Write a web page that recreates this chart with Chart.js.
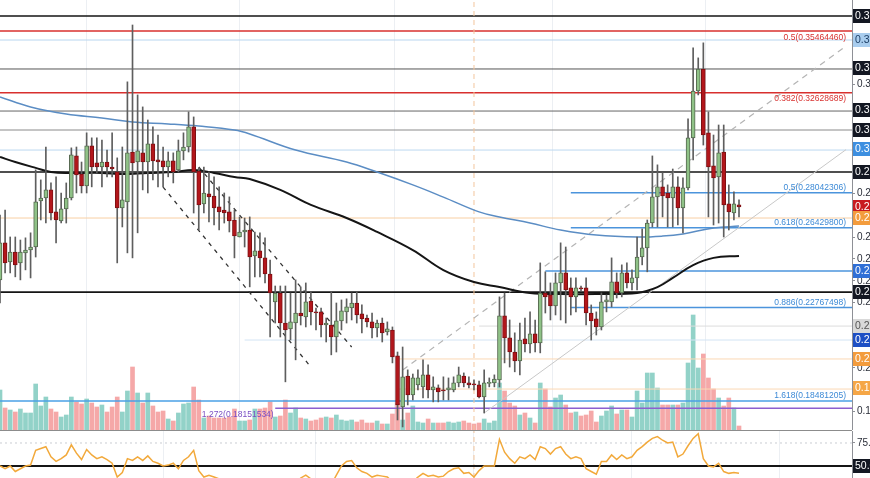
<!DOCTYPE html>
<html>
<head>
<meta charset="utf-8">
<script src="https://cdn.jsdelivr.net/npm/chart.js@4.4.1/dist/chart.umd.min.js"></script>
<style>
  html, body { margin: 0; padding: 0; background: #fff; overflow: hidden; }
  #wrap { width: 870px; height: 478px; position: relative; }
  #priceChart { position: absolute; left: 0; top: 0; }
  #sep { position: absolute; left: 0; top: 430px; width: 852px; height: 1px; background: #8c8c8c; }
  #rsiChart { position: absolute; left: 0; top: 431px; }
</style>
</head>
<body>
<div id="wrap">
  <canvas id="priceChart" width="870" height="430"></canvas>
  <div id="sep"></div>
  <canvas id="rsiChart" width="870" height="47"></canvas>
</div>
<script>
// daily candles
const opens = [0.2404,0.2574,0.2486,0.2532,0.2482,0.2528,0.2541,0.2555,0.2766,0.2780,
  0.2817,0.2716,0.2675,0.2730,0.2780,0.2973,0.2890,0.2835,0.3019,0.2941,
  0.2922,0.2945,0.2922,0.2900,0.2734,0.2762,0.2991,0.2945,0.2987,0.2945,
  0.3028,0.2955,0.2950,0.2922,0.2950,0.2909,0.2996,0.3014,0.3106,0.2904,
  0.2753,0.2799,0.2789,0.2739,0.2725,0.2716,0.2679,0.2601,0.2624,0.2633,
  0.2514,0.2537,0.2505,0.2431,0.2303,0.2344,0.2206,0.2179,0.2206,0.2252,
  0.2234,0.2307,0.2257,0.2257,0.2197,0.2197,0.2142,0.2216,0.2257,0.2275,
  0.2298,0.2248,0.2229,0.2211,0.2183,0.2206,0.2165,0.2174,0.2055,0.1821,
  0.1963,0.1876,0.1922,0.1913,0.1968,0.1899,0.1908,0.1899,0.1899,0.1899,
  0.1931,0.1963,0.1931,0.1926,0.1922,0.1867,0.1929,0.1931,0.1945,0.2239,
  0.2138,0.2073,0.2032,0.2133,0.2110,0.2156,0.2115,0.2344,0.2335,0.2285,
  0.2390,0.2436,0.2367,0.2326,0.2367,0.2367,0.2252,0.2225,0.2188,0.2303,
  0.2303,0.2395,0.2344,0.2436,0.2390,0.2413,0.2509,0.2551,0.2665,0.2785,
  0.2831,0.2803,0.2780,0.2831,0.2734,0.2826,0.3056,0.3271,0.3372,0.3079,
  0.2927,0.2877,0.2991,0.2753,0.2711,0.2748];
const highs = [0.2702,0.2725,0.2601,0.2601,0.2587,0.2597,0.2620,0.2909,0.2863,0.3014,
  0.2849,0.2877,0.2803,0.2849,0.3010,0.3014,0.2945,0.3079,0.3056,0.3056,
  0.3046,0.3000,0.3079,0.2964,0.3014,0.3313,0.3574,0.3253,0.3198,0.3138,
  0.3106,0.3069,0.3014,0.2991,0.2987,0.3046,0.3079,0.3175,0.3152,0.2918,
  0.2922,0.2900,0.2877,0.2831,0.2803,0.2785,0.2725,0.2693,0.2688,0.2693,
  0.2624,0.2620,0.2597,0.2495,0.2376,0.2376,0.2376,0.2344,0.2404,0.2372,
  0.2390,0.2349,0.2275,0.2275,0.2229,0.2349,0.2298,0.2312,0.2317,0.2344,
  0.2349,0.2289,0.2243,0.2252,0.2220,0.2229,0.2211,0.2188,0.2073,0.2096,
  0.1991,0.1972,0.1991,0.2037,0.2014,0.1959,0.1922,0.1959,0.1954,0.1959,
  0.2004,0.1977,0.1959,0.1945,0.1940,0.1991,0.1954,0.1968,0.2326,0.2344,
  0.2220,0.2161,0.2206,0.2229,0.2257,0.2220,0.2482,0.2441,0.2390,0.2436,
  0.2574,0.2555,0.2413,0.2413,0.2376,0.2413,0.2289,0.2257,0.2344,0.2335,
  0.2505,0.2436,0.2473,0.2482,0.2450,0.2601,0.2638,0.2679,0.2973,0.2932,
  0.2895,0.2840,0.2913,0.2877,0.2872,0.3143,0.3469,0.3423,0.3492,0.3175,
  0.3069,0.3115,0.3115,0.2840,0.2808,0.2771];
const lows = [0.2298,0.2436,0.2436,0.2418,0.2404,0.2450,0.2413,0.2509,0.2679,0.2665,
  0.2679,0.2574,0.2665,0.2665,0.2771,0.2803,0.2803,0.2803,0.2831,0.2895,
  0.2831,0.2877,0.2877,0.2482,0.2647,0.2528,0.2505,0.2620,0.2817,0.2803,
  0.2863,0.2831,0.2831,0.2877,0.2849,0.2900,0.2955,0.2991,0.2711,0.2633,
  0.2711,0.2670,0.2656,0.2633,0.2665,0.2624,0.2505,0.2601,0.2555,0.2372,
  0.2418,0.2418,0.2390,0.2142,0.2206,0.2142,0.1936,0.2128,0.2037,0.2197,
  0.2188,0.2197,0.2174,0.2142,0.2119,0.2060,0.2073,0.2174,0.2206,0.2220,
  0.2206,0.2161,0.2188,0.2138,0.2142,0.2119,0.2151,0.2023,0.1761,0.1729,
  0.1830,0.1853,0.1899,0.1862,0.1862,0.1844,0.1844,0.1853,0.1853,0.1890,
  0.1913,0.1913,0.1908,0.1899,0.1862,0.1793,0.1913,0.1913,0.1913,0.2023,
  0.2004,0.1982,0.1968,0.2073,0.2069,0.2073,0.2069,0.2252,0.2220,0.2243,
  0.2220,0.2206,0.2243,0.2257,0.2353,0.2197,0.2128,0.2151,0.2174,0.2257,
  0.2280,0.2321,0.2326,0.2367,0.2358,0.2358,0.2473,0.2441,0.2647,0.2647,
  0.2693,0.2647,0.2647,0.2656,0.2620,0.2817,0.2955,0.3253,0.3023,0.2693,
  0.2656,0.2665,0.2601,0.2633,0.2679,0.2693];
const closes = [0.2574,0.2482,0.2532,0.2473,0.2532,0.2541,0.2555,0.2762,0.2780,0.2817,
  0.2711,0.2679,0.2730,0.2780,0.2978,0.2886,0.2835,0.3019,0.2922,0.2922,
  0.2945,0.2922,0.2913,0.2734,0.2771,0.2987,0.2941,0.2996,0.2945,0.3028,
  0.2950,0.2945,0.2922,0.2950,0.2900,0.2996,0.3014,0.3106,0.2900,0.2748,
  0.2803,0.2785,0.2734,0.2716,0.2711,0.2675,0.2606,0.2624,0.2633,0.2509,
  0.2537,0.2505,0.2431,0.2344,0.2344,0.2206,0.2174,0.2211,0.2252,0.2239,
  0.2303,0.2257,0.2252,0.2197,0.2206,0.2142,0.2216,0.2262,0.2280,0.2298,
  0.2243,0.2225,0.2211,0.2183,0.2206,0.2161,0.2179,0.2050,0.1830,0.1959,
  0.1876,0.1954,0.1954,0.1968,0.1899,0.1913,0.1890,0.1894,0.1908,0.1931,
  0.1968,0.1931,0.1922,0.1922,0.1867,0.1931,0.1931,0.1949,0.2239,0.2138,
  0.2073,0.2032,0.2128,0.2110,0.2156,0.2115,0.2344,0.2326,0.2285,0.2390,
  0.2436,0.2358,0.2326,0.2367,0.2362,0.2252,0.2216,0.2188,0.2303,0.2312,
  0.2395,0.2344,0.2436,0.2390,0.2413,0.2509,0.2551,0.2665,0.2785,0.2831,
  0.2789,0.2780,0.2831,0.2734,0.2826,0.3056,0.3271,0.3372,0.3069,0.2922,
  0.2872,0.2987,0.2748,0.2716,0.2753,0.2739];
// volume, millions
const volumes = [4.0,2.2,2.0,1.8,2.1,1.7,1.7,4.6,2.4,3.3,
  2.1,1.8,1.3,1.5,3.3,2.8,2.6,3.1,2.7,2.3,
  2.5,1.8,2.3,3.3,1.8,3.9,6.3,3.7,2.7,3.7,
  2.4,1.8,1.9,1.1,0.9,1.7,2.6,2.7,4.3,3.0,
  1.2,1.4,1.2,1.2,1.2,1.3,2.1,0.9,0.9,1.0,
  2.1,2.1,2.2,2.8,1.3,1.4,3.0,1.7,2.2,1.2,
  1.1,0.9,1.0,1.2,1.3,1.2,1.5,1.0,0.9,1.0,
  0.8,1.0,0.7,0.7,0.9,0.6,0.6,1.6,2.7,1.0,
  1.7,2.4,0.8,0.7,1.1,0.7,0.7,0.7,0.8,0.7,
  0.8,0.9,0.7,0.6,0.7,1.1,0.7,0.9,4.7,3.9,
  2.7,2.4,1.5,1.7,1.2,0.7,4.7,4.1,2.3,3.2,
  3.5,2.5,1.7,1.8,1.4,1.5,1.9,0.8,1.4,1.9,
  2.4,1.6,2.0,2.0,1.3,3.9,2.7,5.7,5.7,4.2,
  2.5,2.5,2.5,2.5,2.7,6.7,11.5,6.2,7.6,5.2,
  4.1,3.2,2.4,3.2,2.2,0.4];
const rsi = [50,47,50,44,47,50,51,67,69,71,
  60,55,58,62,73,64,57,68,62,58,
  60,57,53,38,43,58,56,60,56,61,
  55,53,50,51,53,47,56,60,67,45,
  38,40,38,36,35,33,30,32,31,28,
  30,29,26,22,26,22,20,25,30,37,
  40,36,34,31,33,30,40,50,55,56,
  48,44,42,38,40,39,38,33,22,30,
  28,33,38,42,39,40,38,39,44,47,
  48,42,43,38,45,50,50,50,79,65,
  58,53,60,58,62,57,71,69,63,69,
  71,63,58,60,58,47,44,41,55,55,
  62,57,62,58,60,67,71,76,80,82,
  78,75,76,60,63,72,80,85,58,50,
  49,53,44,42,43,42];

// moving averages, sampled at bar index
const slowMaIdx = [0,6,13,20,26,33,39,46,49,58,68,74,81,87,94,98,104,110,117,125,130,134,140,145];
const slowMaVal = [0.3244,0.3198,0.3165,0.3147,0.3129,0.3120,0.3110,0.3092,0.3074,0.3000,0.2945,0.2899,
  0.2840,0.2784,0.2716,0.2693,0.2665,0.2633,0.2610,0.2601,0.2605,0.2615,0.2642,0.2651];
const fastMaIdx = [0,3,7,10,14,20,24,29,34,38,42,46,49,55,61,68,74,81,87,93,98,104,110,117,125,129,132,136,140,145];
const fastMaVal = [0.2968,0.2945,0.2918,0.2899,0.2895,0.2895,0.2890,0.2895,0.2899,0.2908,0.2895,0.2876,
  0.2867,0.2817,0.2748,0.2688,0.2624,0.2541,0.2449,0.2394,0.2371,0.2344,0.2339,0.2339,0.2344,0.2371,
  0.2413,0.2472,0.2505,0.2514];

// horizontal levels and the bar they start from
const levelPrices = [0.3615,0.35464460,0.3505,0.3372,0.32628689,0.3179,0.3092,0.3000,0.2899,
  0.28042306,0.2688,0.26429800,0.2445,0.2348,0.22767498,0.2192,0.2128,0.2041,0.1903,0.18481205,0.18151534];
const levelFrom = [0,0,0,0,0,0,0,0,0,112,0,112,107,0,112,94,48,78,78,0,54];

// fib labels
const fibText = ['0.5(0.35464460)','0.382(0.32628689)','0.5(0.28042306)','0.618(0.26429800)',
  '0.886(0.22767498)','1.618(0.18481205)','1.272(0.18151534)'];
const fibPrice = [0.35464460,0.32628689,0.28042306,0.26429800,0.22767498,0.18481205,0.18151534];

// price-scale badges
const badgePrice = [0.3615,0.3505,0.3377,0.3184,0.3092,0.3005,0.2899,0.2739,0.2688,0.2445,0.2348,0.2192,0.2128,0.2041,0.1908];

// trend lines [bar, price]
const trendFrom = [[79,0.1990],[95,0.1793],[32,0.2830],[39,0.2922]];
const trendTo = [[166,0.3477],[166,0.3002],[61,0.2004],[69,0.2096]];

const monthIdx = [32,62,93,124,153];
const markerIdx = 93;

// ---- layout / styles ----
const xMax = 167.17;
const priceMax = 0.36887, priceMin = 0.17150;
const rsiMax = 88.04, rsiMin = 36.96;
const FONT = '"Liberation Sans", Arial, sans-serif';
Chart.defaults.font.family = FONT;

const levelStyle = [
  ['#151515',1.6],['#d8302e',1.5],['#b9d6ef',1],['#555',1],['#d8302e',1.5],['#666',1],['#8a8a8a',1],
  ['#bcd8f0',1],['#151515',1.6],['#4b94dc',1.5],['#f8cfa3',1],['#4b94dc',1.5],['#4b94dc',1.5],
  ['#151515',1.6],['#4b94dc',1.5],['#dcdcdc',1],['#d3e4f4',1],['#fbd8b4',1],['#fbd8b4',1],
  ['#4aa0e6',1.5],['#8b5fcf',1.5]
];
const fibStyle = [
  {color:'#d8302e', below:true},{color:'#d8302e', below:true},{color:'#3d8ad6'},{color:'#3d8ad6'},
  {color:'#3d8ad6'},{color:'#3d8ad6'},{color:'#7b4fc4', below:true, at:39.6}
];
const badgeStyle = [
  ['#131722','#fff'],['#a9cdee','#1d3f66'],['#131722','#fff'],['#131722','#fff'],['#131722','#fff'],
  ['#3d8fe0','#fff'],['#131722','#fff'],['#c8191e','#fff'],['#f39c3d','#fff'],['#2f6fd6','#fff'],
  ['#131722','#fff'],['#d9d9d9','#555'],['#1d4fc4','#fff'],['#f39c3d','#fff'],['#f5a646','#fff']
];
const trendStyle = [['#b4b4b4',1.2,[6,5]],['#c8c8c8',1,[]],['#333',1.3,[4,5]],['#333',1.3,[4,5]]];

const idx = opens.map((_, i) => i);
const up = idx.map(i => closes[i] >= opens[i]);

const levelSets = levelPrices.map((p, k) => ({
  type: 'line', data: [{x: levelFrom[k], y: p}, {x: xMax, y: p}],
  borderColor: levelStyle[k][0], borderWidth: levelStyle[k][1], pointRadius: 0, order: 50
}));
const trendSets = trendFrom.map((a, k) => ({
  type: 'line', data: [{x: a[0], y: a[1]}, {x: trendTo[k][0], y: trendTo[k][1]}],
  borderColor: trendStyle[k][0], borderWidth: trendStyle[k][1], borderDash: trendStyle[k][2],
  pointRadius: 0, order: 40
}));

// keep the plot flush with the canvas edges
function fitRight(s) {
  s.width = 18;
  s.paddingTop = 0;
  s.paddingBottom = 0;
}

const fibLabels = {
  id: 'fibLabels',
  afterDatasetsDraw(chart) {
    const {ctx, chartArea, scales: {x, y}} = chart;
    ctx.save();
    ctx.font = '8.5px ' + FONT;
    fibText.forEach((t, k) => {
      const st = fibStyle[k];
      const py = y.getPixelForValue(fibPrice[k]);
      ctx.fillStyle = st.color;
      ctx.textBaseline = st.below ? 'top' : 'bottom';
      const ty = st.below ? py + 2 : py - 1;
      if (st.at !== undefined) {
        ctx.textAlign = 'left';
        ctx.fillText(t, x.getPixelForValue(st.at), ty);
      } else {
        ctx.textAlign = 'right';
        ctx.fillText(t, chartArea.right - 6, ty);
      }
    });
    ctx.restore();
  }
};

function badges(prices, styles, digits) {
  return {
    id: 'badges',
    afterDraw(chart) {
      const {ctx, chartArea, scales: {y}} = chart;
      ctx.save();
      ctx.font = '10.5px ' + FONT;
      ctx.textBaseline = 'middle';
      ctx.textAlign = 'left';
      prices.forEach((p, k) => {
        const py = Math.round(y.getPixelForValue(p));
        ctx.fillStyle = styles[k][0];
        ctx.fillRect(chartArea.right + 1, py - 7, 40, 14);
        ctx.fillStyle = styles[k][1];
        ctx.fillText(p.toFixed(digits), chartArea.right + 3, py + 0.5);
      });
      ctx.restore();
    }
  };
}

const rightGrid = { drawOnChartArea: false, drawTicks: true, tickLength: 3, color: '#8e9096' };

new Chart(document.getElementById('priceChart'), {
  type: 'bar',
  data: {
    datasets: [
      {
        type: 'bar', yAxisID: 'yv', data: idx.map(i => ({x: i, y: volumes[i]})),
        backgroundColor: up.map(u => u ? '#92d2c8' : '#f5a8a8'),
        barThickness: 4, grouped: false, order: 100
      },
      ...levelSets,
      ...trendSets,
      {
        type: 'line', data: [{x: markerIdx, y: priceMin}, {x: markerIdx, y: priceMax}],
        borderColor: '#f3c59c', borderWidth: 1, borderDash: [5, 4], pointRadius: 0, order: 45
      },
      {
        type: 'line', data: slowMaIdx.map((v, k) => ({x: v, y: slowMaVal[k]})),
        borderColor: '#5b8dc4', borderWidth: 1.5, pointRadius: 0, tension: 0.4, order: 30
      },
      {
        type: 'line', data: fastMaIdx.map((v, k) => ({x: v, y: fastMaVal[k]})),
        borderColor: '#151515', borderWidth: 2, pointRadius: 0, tension: 0.4, order: 30
      },
      {
        type: 'bar', data: idx.map(i => ({x: i, y: [lows[i], highs[i]]})),
        backgroundColor: '#5e5e5e', barThickness: 1, grouped: false, order: 20
      },
      {
        type: 'bar', data: idx.map(i => ({x: i, y: [opens[i], closes[i]]})),
        backgroundColor: up.map(u => u ? '#8fc287' : '#b3161b'),
        borderColor: up.map(u => u ? '#55684f' : '#7d1013'),
        borderWidth: 1, borderSkipped: false, barThickness: 4, minBarLength: 1,
        grouped: false, order: 10
      }
    ]
  },
  options: {
    responsive: false, animation: false, devicePixelRatio: 1, events: [],
    layout: { padding: 0 },
    plugins: { legend: { display: false }, tooltip: { enabled: false } },
    scales: {
      x: {
        type: 'linear', min: 0, max: xMax, offset: false,
        afterBuildTicks: s => { s.ticks = monthIdx.map(v => ({value: v})); },
        afterFit: s => { s.height = 0; s.paddingLeft = 0; s.paddingRight = 0; },
        ticks: { display: false },
        grid: { color: '#eceff3', drawTicks: false },
        border: { display: false }
      },
      y: {
        position: 'right', min: priceMin, max: priceMax,
        afterFit: fitRight,
        grid: rightGrid,
        border: { color: '#8e9096' },
        ticks: {
          includeBounds: false, stepSize: 0.01, padding: 2, color: '#2a2e39',
          font: { size: 10 },
          callback: v => badgePrice.some(b => Math.abs(b - v) < 0.004) ? '' : v.toFixed(4)
        }
      },
      yv: { display: false, min: 0, max: 43 }
    }
  },
  plugins: [fibLabels, badges(badgePrice, badgeStyle, 4)]
});

new Chart(document.getElementById('rsiChart'), {
  type: 'line',
  data: {
    datasets: [
      { data: idx.map(i => ({x: i, y: rsi[i]})), borderColor: '#f2a93b', borderWidth: 1.5, pointRadius: 0, order: 1 },
      { data: [{x: 0, y: 50}, {x: xMax, y: 50}], borderColor: '#151515', borderWidth: 2, pointRadius: 0, order: 5 },
      { data: [{x: 0, y: 75}, {x: xMax, y: 75}], borderColor: '#c9ccd2', borderWidth: 1, borderDash: [2, 3], pointRadius: 0, order: 6 },
      { data: [{x: markerIdx, y: rsiMin}, {x: markerIdx, y: rsiMax}], borderColor: '#f3c59c', borderWidth: 1, borderDash: [5, 4], pointRadius: 0, order: 7 }
    ]
  },
  options: {
    responsive: false, animation: false, devicePixelRatio: 1, events: [],
    layout: { padding: 0 },
    plugins: { legend: { display: false }, tooltip: { enabled: false } },
    scales: {
      x: {
        type: 'linear', min: 0, max: xMax,
        afterBuildTicks: s => { s.ticks = monthIdx.map(v => ({value: v})); },
        afterFit: s => { s.height = 0; s.paddingLeft = 0; s.paddingRight = 0; },
        ticks: { display: false },
        grid: { color: '#eceff3', drawTicks: false },
        border: { display: false }
      },
      y: {
        position: 'right', min: rsiMin, max: rsiMax,
        afterFit: fitRight,
        afterBuildTicks: s => { s.ticks = [{value: 75}]; },
        grid: rightGrid,
        border: { color: '#8e9096' },
        ticks: { padding: 2, color: '#2a2e39', font: { size: 10 }, callback: v => v.toFixed(1) }
      }
    }
  },
  plugins: [badges([50], [['#131722', '#fff']], 1)]
});
</script>
</body>
</html>
